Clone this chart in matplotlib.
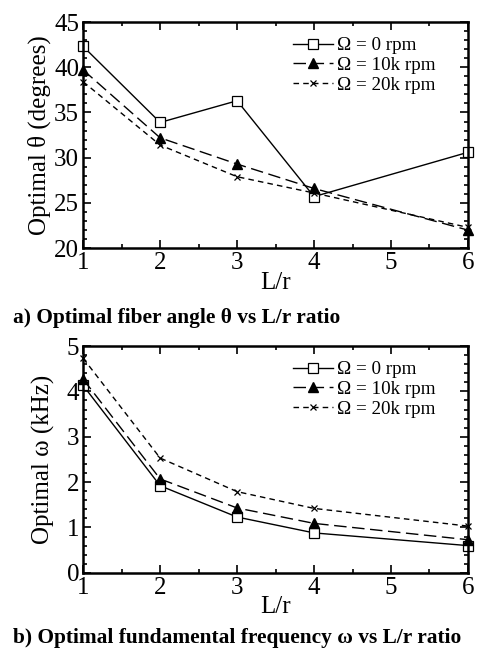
import matplotlib

matplotlib.use("Agg")

import matplotlib.pyplot as plt
from matplotlib.ticker import MultipleLocator

plt.rcParams["font.family"] = ["Liberation Serif", "DejaVu Serif"]
plt.rcParams["mathtext.fontset"] = "stix"

# data
lr = [1, 2, 3, 4, 6]
series_labels = ["\u03a9 = 0 rpm", "\u03a9 = 10k rpm", "\u03a9 = 20k rpm"]

theta_0 = [42.3, 33.9, 36.3, 25.7, 30.6]
theta_10k = [39.7, 32.2, 29.3, 26.6, 22.0]
theta_20k = [38.4, 31.4, 27.9, 26.1, 22.3]

omega_0 = [4.13, 1.92, 1.23, 0.88, 0.60]
omega_10k = [4.27, 2.07, 1.43, 1.09, 0.73]
omega_20k = [4.73, 2.53, 1.79, 1.42, 1.03]

styles = [
    dict(linestyle="-", marker="s", mfc="white", mec="black", ms=7, mew=0.9),
    dict(linestyle=(0, (9, 4)), marker="^", mfc="black", mec="black", ms=7),
    dict(linestyle=(0, (4, 3)), marker="x", mfc="black", mec="black", ms=4.5, mew=0.9),
]


def style_axes(ax, ymin, ymax, ymajor, yminor):
    ax.set_xlim(1, 6)
    ax.set_ylim(ymin, ymax)
    ax.xaxis.set_major_locator(MultipleLocator(1))
    ax.xaxis.set_minor_locator(MultipleLocator(0.5))
    ax.yaxis.set_major_locator(MultipleLocator(ymajor))
    ax.yaxis.set_minor_locator(MultipleLocator(yminor))
    ax.tick_params(which="both", direction="in", top=True, right=True,
                   labelsize=18, width=1.2)
    ax.tick_params(which="major", length=6, pad=3)
    ax.tick_params(which="minor", length=3)
    for sp in ax.spines.values():
        sp.set_linewidth(1.8)
    ax.set_xlabel("L/r", fontsize=18, labelpad=-2)


def draw(ax, ys):
    for y, lab, st in zip(ys, series_labels, styles):
        ax.plot(lr, y, color="black", linewidth=1.0, label=lab, clip_on=False, **st)
    ax.legend(loc="upper right", bbox_to_anchor=(0.93, 0.96), frameon=False,
              fontsize=13.8, handlelength=2.1, handletextpad=0.2,
              labelspacing=0.12, borderaxespad=0.0, borderpad=0.3)


fig = plt.figure(figsize=(4.78, 6.48), dpi=100)

ax1 = fig.add_axes([0.174, 0.617, 0.805, 0.349])
draw(ax1, [theta_0, theta_10k, theta_20k])
style_axes(ax1, 20, 45, 5, 1)
ax1.set_ylabel("Optimal \u03b8 (degrees)", fontsize=18, labelpad=2)

ax2 = fig.add_axes([0.174, 0.116, 0.805, 0.350])
draw(ax2, [omega_0, omega_10k, omega_20k])
style_axes(ax2, 0, 5, 1, 0.2)
ax2.set_ylabel("Optimal \u03c9 (kHz)", fontsize=18, labelpad=8)

fig.text(0.027, 0.509, "a) Optimal fiber angle \u03b8 vs L/r ratio",
         fontsize=15.4, fontweight="bold", va="center", ha="left")
fig.text(0.027, 0.016, "b) Optimal fundamental frequency \u03c9 vs L/r ratio",
         fontsize=15.4, fontweight="bold", va="center", ha="left")

fig.savefig("out.png", dpi=100)
